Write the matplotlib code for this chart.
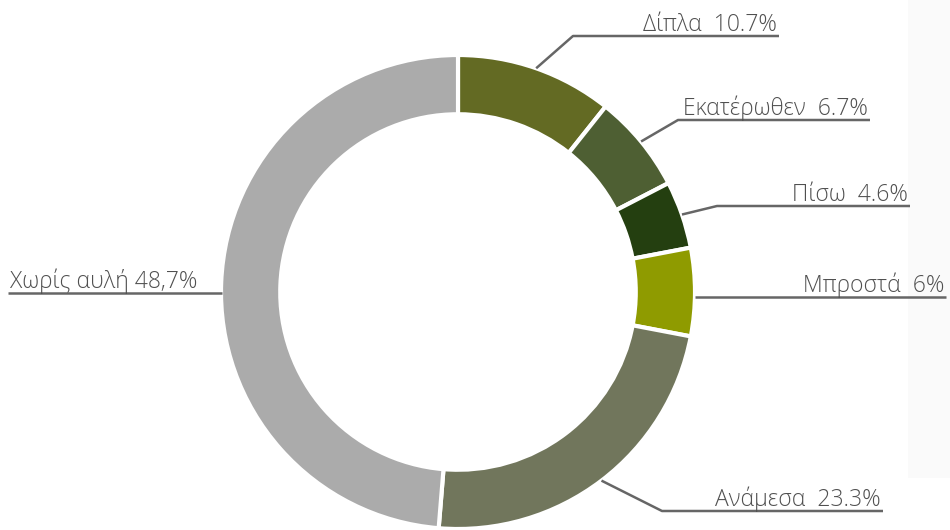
import numpy as np
import matplotlib.pyplot as plt
from matplotlib.patches import Rectangle

# data
labels = ['Δίπλα', 'Εκατέρωθεν', 'Πίσω', 'Μπροστά', 'Ανάμεσα', 'Χωρίς αυλή']
values = [10.7, 6.7, 4.6, 6.0, 23.3, 48.7]
value_text = ['10.7%', '6.7%', '4.6%', '6%', '23.3%', '48,7%']
colors = ['#636a23', '#4e5f33', '#243f10', '#8f9b00', '#71765c', '#ababab']

# leader line layout (pixel space, y measured from top)
line_y = [36, 120, 206, 297, 511, 293]
elbow_x = [573, 678, 717, None, 662, None]
end_x = [779, 870, 910, 946, 883, 8]
side = ['r', 'r', 'r', 'r', 'r', 'l']

W, H = 950, 530
cx, cy, R = 458, 292, 237

fig = plt.figure(figsize=(9.5, 5.3), dpi=100)
ax = fig.add_axes([0, 0, 1, 1])

# faint panel on the right edge
ax.add_patch(Rectangle((908, H - 478), 42, 478, color='#fafafa', lw=0, zorder=0))

wedges, _ = ax.pie(values, colors=colors, startangle=90, counterclock=False,
                   center=(cx, H - cy), radius=R,
                   wedgeprops=dict(width=R * 0.25, edgecolor='white', linewidth=3),
                   frame=True)
ax.set_xlim(0, W)
ax.set_ylim(0, H)
ax.set_aspect('equal')
ax.axis('off')

font = ['Open Sans', 'DejaVu Sans']
line_col = '#666666'
text_col = '#505050'
fs = 16.5

for i, w in enumerate(wedges):
    ang = np.deg2rad((w.theta1 + w.theta2) / 2)
    ax_x = cx + R * np.cos(ang)
    ax_y = (H - cy) + R * np.sin(ang)
    ly = H - line_y[i]
    if side[i] == 'r':
        if elbow_x[i] is not None:
            xs = [ax_x, elbow_x[i], end_x[i]]
            ys = [ax_y, ly, ly]
        else:
            xs = [ax_x, end_x[i]]
            ys = [ly, ly]
        ax.plot(xs, ys, color=line_col, lw=1.8, solid_capstyle='butt', zorder=3)
        ax.text(end_x[i] - 2, ly + 5, labels[i] + '  ' + value_text[i],
                ha='right', va='baseline', fontsize=fs, color=text_col,
                family=font, fontweight='light')
    else:
        ax.plot([end_x[i], cx - R + 1], [ly, ly], color=line_col, lw=1.8,
                solid_capstyle='butt', zorder=3)
        ax.text(end_x[i] + 2, ly + 5, labels[i] + ' ' + value_text[i],
                ha='left', va='baseline', fontsize=fs, color=text_col,
                family=font, fontweight='light')

fig.savefig('out.png', dpi=100, facecolor='white')
